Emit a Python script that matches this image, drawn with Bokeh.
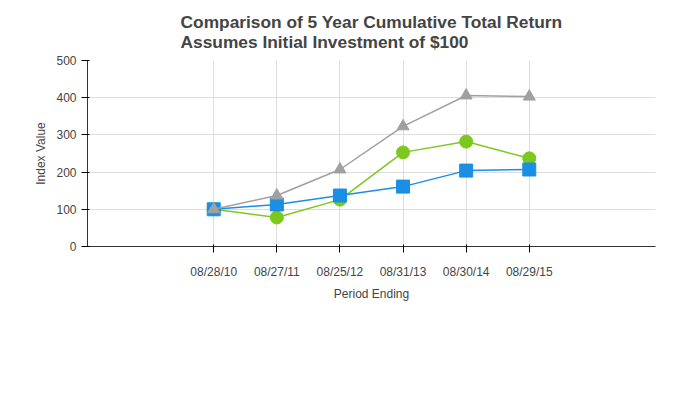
from bokeh.plotting import figure
from bokeh.models import Legend, LegendItem, FactorRange
from bokeh.embed import file_html
from bokeh.resources import INLINE

periods = ["08/28/10", "08/27/11", "08/25/12", "08/31/13", "08/30/14", "08/29/15"]
winnebago = [100, 78, 126, 253, 282, 237]
sp500 = [100, 113, 137, 161, 204, 207]
peer = [100, 137, 207, 323, 406, 403]

p = figure(frame_width=568, frame_height=186, x_range=FactorRange(*periods), y_range=(0, 500),
           output_backend="svg", toolbar_location=None,
           title="Comparison of 5 Year Cumulative Total Return\nAssumes Initial Investment of $100",
           min_border_left=87, min_border_right=25, min_border_top=8)
p.x_range.range_padding = 0.5
p.title.align = "center"
p.title.text_font = "Liberation Sans"
p.title.text_font_size = "13pt"
p.title.text_font_style = "bold"
p.title.standoff = 18
p.outline_line_color = None
p.xgrid.grid_line_color = "#dddddd"
p.ygrid.grid_line_color = "#dddddd"
for ax in (p.xaxis[0], p.yaxis[0]):
    ax.major_label_text_font = "Liberation Sans"
    ax.major_label_text_font_size = "9pt"
    ax.axis_label_text_font = "Liberation Sans"
    ax.axis_label_text_font_size = "9pt"
    ax.axis_label_text_font_style = "normal"
    ax.minor_tick_line_color = None
    ax.axis_line_color = "#333333"
p.xaxis.axis_label = "Period Ending"
p.yaxis.axis_label = "Index Value"
p.yaxis.ticker = [0, 100, 200, 300, 400, 500]
p.xaxis.major_label_standoff = 12

r1 = p.line(periods, winnebago, line_color="#7dc81e", line_width=1.5)
r1s = p.scatter(periods, winnebago, marker="circle", size=13, fill_color="#7dc81e", line_color="#7dc81e")
r2 = p.line(periods, sp500, line_color="#1a8fe3", line_width=1.5)
r2s = p.scatter(periods, sp500, marker="square", size=13, fill_color="#1a8fe3", line_color="#1a8fe3")
r3 = p.line(periods, peer, line_color="#a0a0a0", line_width=1.5)
r3s = p.scatter(periods, peer, marker="triangle", size=12, fill_color="#a0a0a0", line_color="#a0a0a0")

legend = Legend(items=[LegendItem(label="Winnebago Industries, Inc.", renderers=[r1, r1s]),
                       LegendItem(label="S&P 500 Index", renderers=[r2, r2s]),
                       LegendItem(label="Peer Group", renderers=[r3, r3s])],
                orientation="horizontal", location=(-60, 0), border_line_color=None,
                label_text_font="Liberation Sans", label_text_font_size="9pt",
                glyph_width=45, spacing=60, margin=30)
p.add_layout(legend, "below")

open("out.html", "w").write(file_html(p, INLINE))
